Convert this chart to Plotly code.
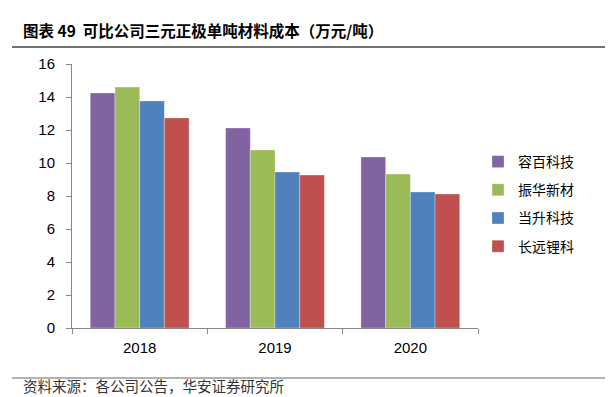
import plotly.graph_objects as go

years = ["2018", "2019", "2020"]
companies = ["容百科技", "振华新材", "当升科技", "长远锂科"]
costs = {
    "容百科技": [14.24, 12.12, 10.36],
    "振华新材": [14.6, 10.79, 9.33],
    "当升科技": [13.76, 9.45, 8.24],
    "长远锂科": [12.73, 9.27, 8.12],
}
colors = ["#8064A2", "#9BBB59", "#4F81BD", "#C0504D"]
y_ticks = [0, 2, 4, 6, 8, 10, 12, 14, 16]

title_text = "图表 49  可比公司三元正极单吨材料成本（万元/吨）"
source_text = "资料来源：各公司公告，华安证券研究所"

# the page body has an 8px margin; figure is sized to fit the 613x397 window
PW, PH = 406, 264  # plot area size in px

fig = go.Figure()
for name, col in zip(companies, colors):
    fig.add_trace(go.Bar(
        x=years, y=costs[name], name=name, legendgroup=name,
        marker=dict(color=col, line=dict(width=0.6, color="rgba(255,255,255,0.5)")),
    ))

fig.update_layout(
    width=605, height=389,
    margin=dict(l=64, r=605 - 64 - PW, t=56, b=389 - 56 - PH),
    paper_bgcolor="white", plot_bgcolor="white",
    barmode="group", bargap=0.27, bargroupgap=0,
    font=dict(family="Liberation Sans, Arial, Noto Sans CJK SC", size=14, color="black"),
    showlegend=True,
    legend=dict(
        x=(498 - 72 - 20) / PW, y=0.5 - 8 / PH, xanchor="left", yanchor="middle",
        font=dict(family="Noto Sans CJK SC", size=14, color="black"),
        tracegroupgap=7, itemwidth=30,
    ),
    xaxis=dict(
        showline=True, linecolor="#888888", linewidth=1,
        ticks="outside", ticklen=5, tickcolor="#888888",
        tickson="boundaries", showgrid=False, ticklabelstandoff=6,
        tickfont=dict(size=15),
    ),
    yaxis=dict(
        range=[0, 16], tickvals=y_ticks, showline=True, linecolor="#888888",
        linewidth=1, ticks="outside", ticklen=5, tickcolor="#888888",
        showgrid=False, zeroline=False, tickfont=dict(size=15), ticklabelstandoff=8,
    ),
    shapes=[
        dict(type="line", xref="paper", yref="paper", x0=(12 - 72) / PW, x1=(607 - 72) / PW,
             y0=1 + 17 / PH, y1=1 + 17 / PH, line=dict(color="#444444", width=1.5)),
        dict(type="line", xref="paper", yref="paper", x0=(12 - 72) / PW, x1=(612 - 72) / PW,
             y0=-50 / PH, y1=-50 / PH, line=dict(color="#666666", width=1)),
    ],
    annotations=[
        dict(text="<b>" + title_text + "</b>", xref="paper", yref="paper",
             x=(21 - 72) / PW, y=1 + 34 / PH, xanchor="left", yanchor="middle", showarrow=False,
             font=dict(family="Noto Sans CJK SC", size=15.5, color="black")),
        dict(text=source_text, xref="paper", yref="paper",
             x=(21 - 72) / PW, y=-57 / PH, xanchor="left", yanchor="middle", showarrow=False,
             font=dict(family="Noto Sans CJK SC", size=14.5, color="#333333")),
    ],
)

fig.write_html("out.html")
